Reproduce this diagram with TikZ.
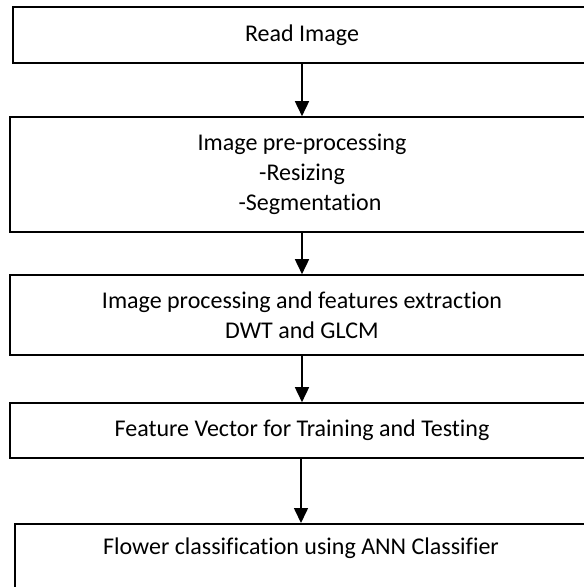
\documentclass[tikz,border=0pt]{standalone}
\usepackage{fontspec}
\setmainfont{Carlito}[Ligatures=NoCommon]
\usetikzlibrary{arrows.meta}
\begin{document}
\begin{tikzpicture}[x=1pt,y=-1pt,
  stagebox/.style={draw=black, line width=1.6pt, rectangle, align=center,
    inner sep=0pt, font=\fontsize{24}{30}\selectfont},
  stagetext/.style={inner sep=0pt, align=center, font=\fontsize{24}{30}\selectfont},
  flow/.style={line width=1.6pt, -{Triangle[width=14pt,length=15pt]}}]
  \useasboundingbox (0,0) rectangle (584,587);
  \clip (0,0) rectangle (584,587);
  \fill[white] (0,0) rectangle (584,587);

  % processing stages (right edges run past the frame)
  \node[stagebox, minimum width=578pt, minimum height=56pt] (read) at (302,35) {Read Image};
  \node[stagebox, minimum width=584pt, minimum height=115pt] (pre) at (302,174.5)
    {Image pre-processing\\-Resizing\\\hspace*{16pt}-Segmentation};
  \node[stagebox, minimum width=584pt, minimum height=80pt] (feat) at (302,315)
    {Image processing and features extraction\\DWT and GLCM};
  \node[stagebox, minimum width=584pt, minimum height=55pt] (vec) at (302,430.5)
    {Feature Vector for Training and Testing};
  \node[stagebox, minimum width=574pt, minimum height=100pt, anchor=north] (ann) at (302,523) {};
  \node[stagetext, anchor=base] (annlbl) at (301,554) {Flower classification using ANN Classifier};

  % connectors
  \draw[flow] (read.south -| 302,0) -- (pre.north -| 302,0);
  \draw[flow] (pre.south -| 302,0) -- (feat.north -| 302,0);
  \draw[flow] (feat.south -| 302,0) -- (vec.north -| 302,0);
  \draw[flow] (vec.south -| 301,0) -- (ann.north -| 301,0);
\end{tikzpicture}
\end{document}
